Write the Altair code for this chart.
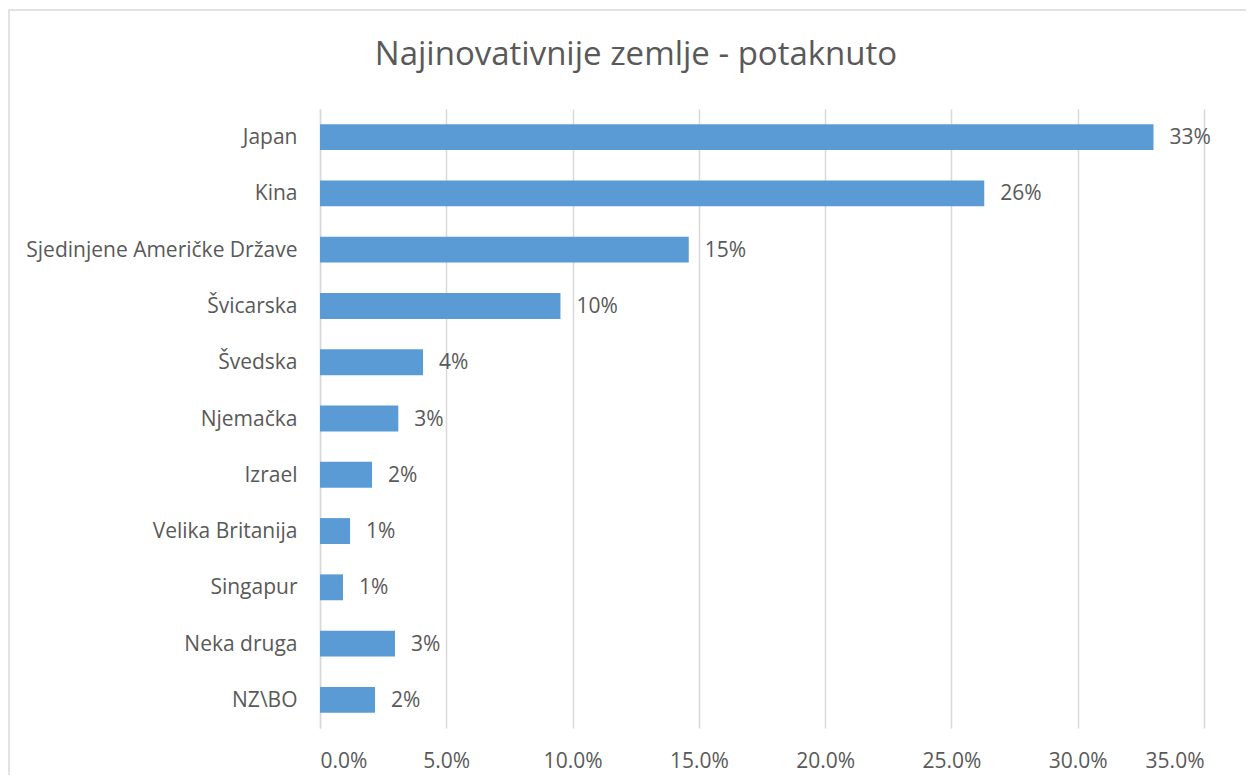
import altair as alt
import pandas as pd

countries = ["Japan", "Kina", "Sjedinjene Američke Države", "Švicarska", "Švedska",
             "Njemačka", "Izrael", "Velika Britanija", "Singapur", "Neka druga", "NZ\\BO"]
shares = [0.330, 0.263, 0.146, 0.0952, 0.0408, 0.031, 0.0206, 0.0119, 0.0091, 0.0297, 0.0218]
x_ticks = [0, 0.05, 0.10, 0.15, 0.20, 0.25, 0.30, 0.35]
title_text = ["Najinovativnije zemlje - potaknuto"]

df = pd.DataFrame({"country": countries, "share": shares})

FONT = "Open Sans"
GREY = "#595959"
W, H = 884, 619
FS = 21

y_enc = alt.Y("country:N", sort=countries, title=None,
              scale=alt.Scale(paddingInner=0.54, paddingOuter=0.27),
              axis=alt.Axis(ticks=False, domain=True, domainColor="#D9D9D9", domainWidth=1.5,
                            labelFont=FONT, labelFontSize=FS, labelColor=GREY,
                            labelPadding=23, labelLimit=320, labelOffset=1, grid=False))
x_enc = alt.X("share:Q", title=None,
              scale=alt.Scale(domain=[0, 0.35], nice=False),
              axis=alt.Axis(values=x_ticks, format=".1%", domain=False, ticks=False,
                            grid=True, gridColor="#D9D9D9", gridWidth=1.5,
                            labelFont=FONT, labelFontSize=FS, labelColor=GREY,
                            labelPadding=22))

bars = alt.Chart(df).mark_bar(color="#5B9BD5").encode(x=x_enc, y=y_enc)
labels = alt.Chart(df).mark_text(align="left", baseline="middle", dx=16, dy=1,
                                 font=FONT, fontSize=FS, color=GREY).encode(
    x="share:Q", y=alt.Y("country:N", sort=countries),
    text=alt.Text("share:Q", format=".0%"))

border = alt.Chart(pd.DataFrame({"k": [0]})).mark_rect(
    fill=None, stroke="#D9D9D9", strokeWidth=1.5, clip=False).encode(
    x=alt.value(-311), x2=alt.value(W + 60), y=alt.value(-99), y2=alt.value(H + 60))

title = alt.Chart(pd.DataFrame({"t": title_text})).mark_text(
    align="center", baseline="middle", font=FONT, fontSize=33, color=GREY).encode(
    x=alt.value(316), y=alt.value(-54), text="t:N")

chart = alt.layer(border, bars, labels, title).properties(
    width=W, height=H,
    autosize=alt.AutoSizeParams(type="none"),
    padding={"left": 312, "top": 101, "right": 42, "bottom": 47},
).configure_view(stroke=None)

chart.save("out.html", embed_options={"renderer": "svg", "actions": False})
